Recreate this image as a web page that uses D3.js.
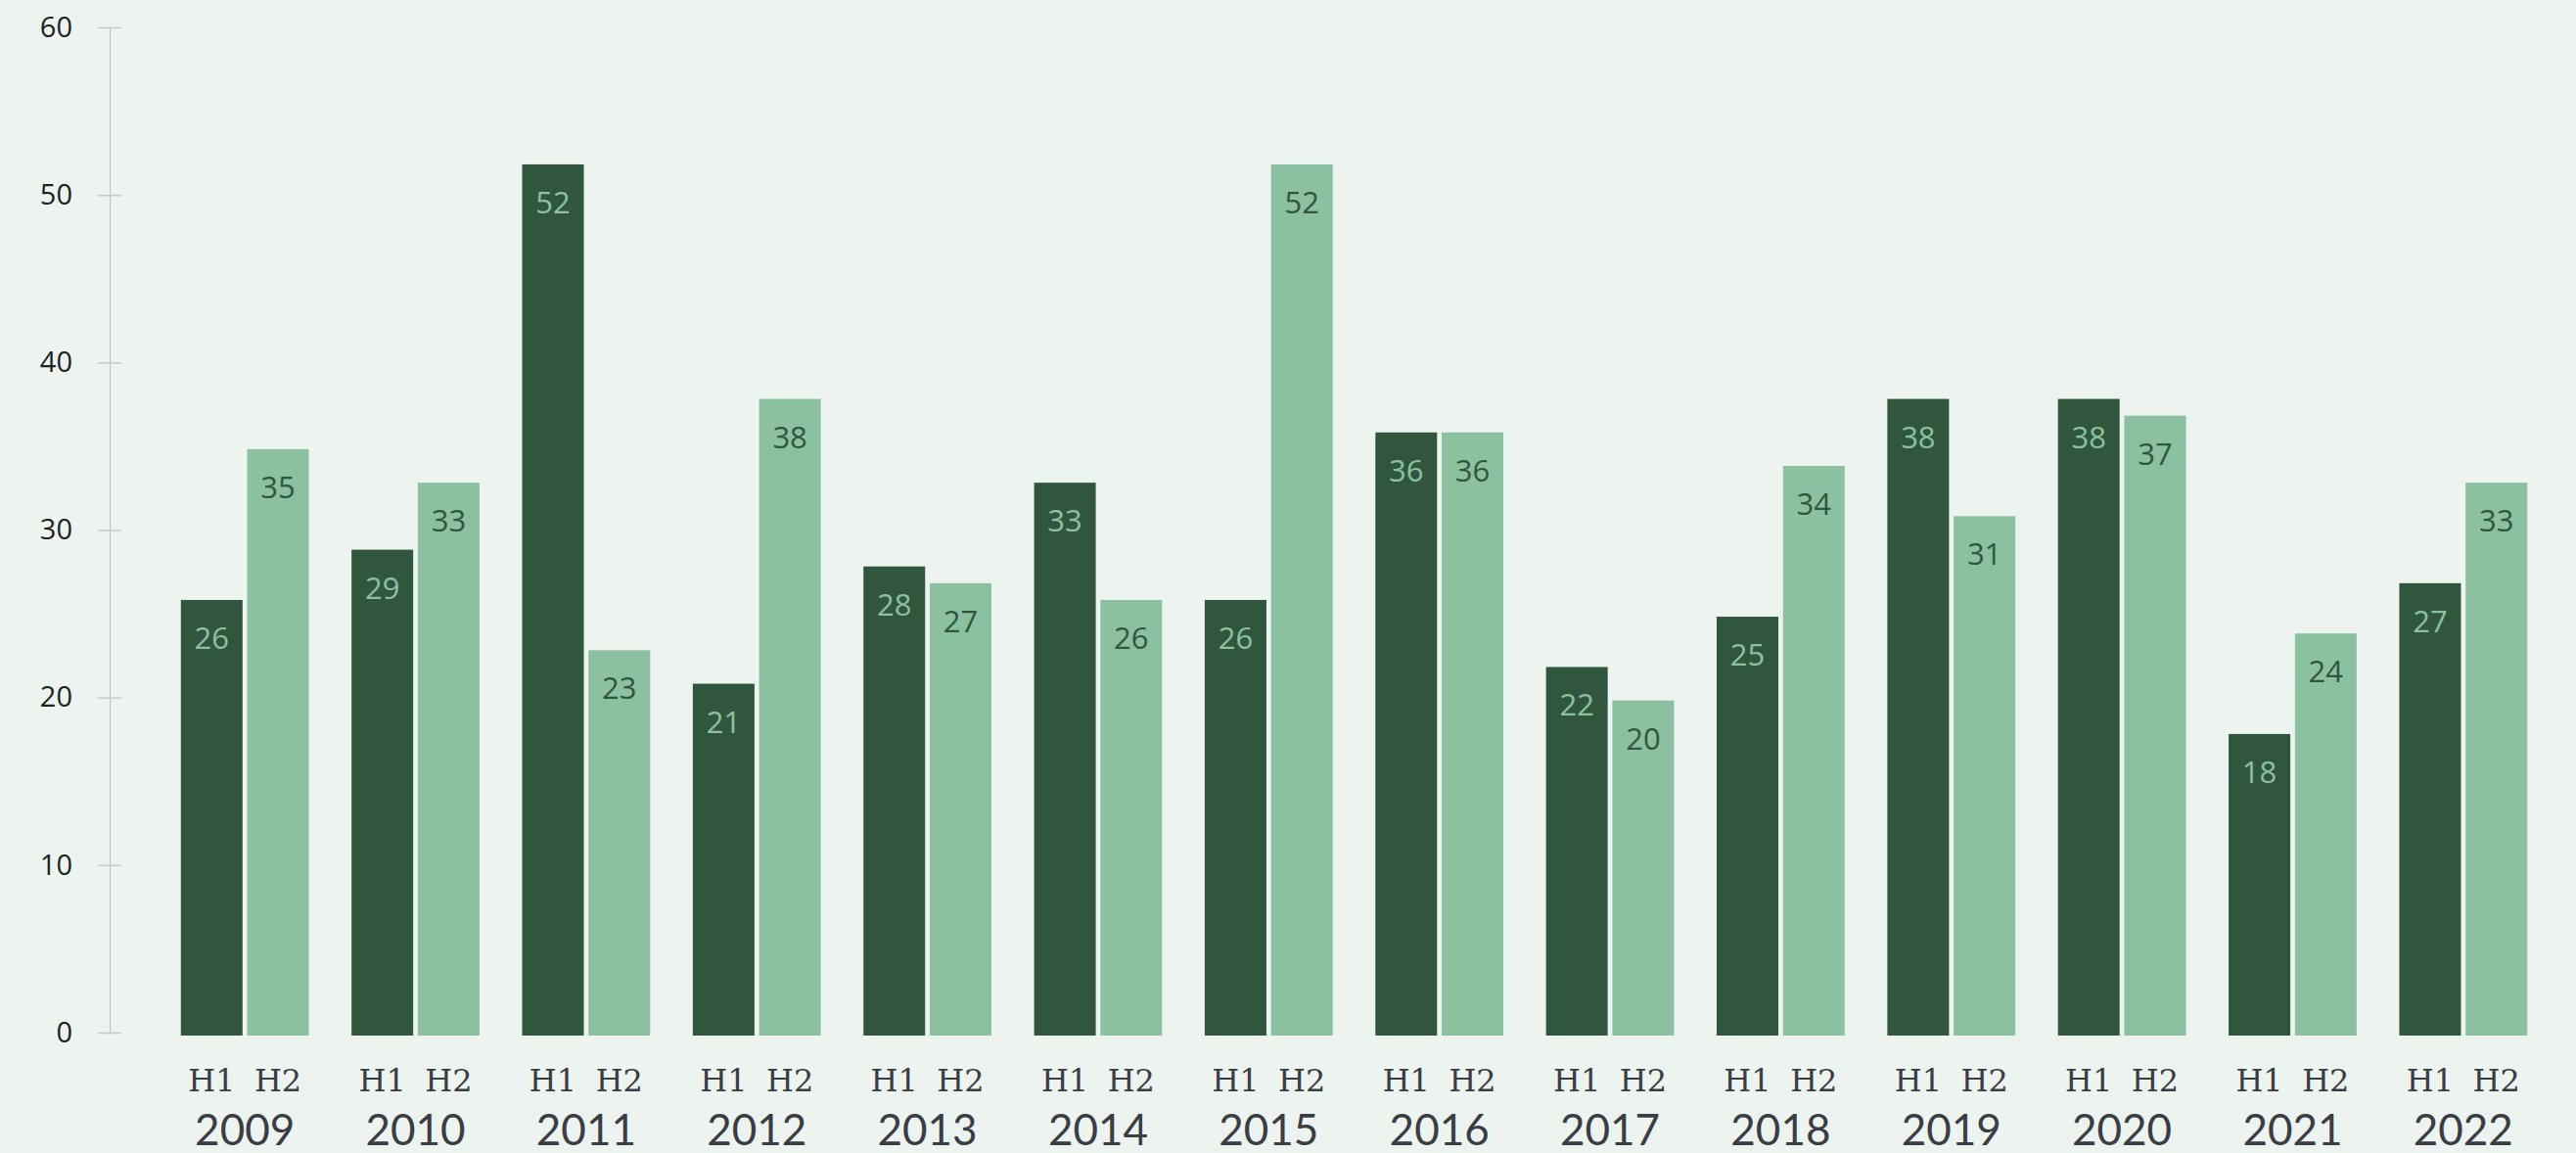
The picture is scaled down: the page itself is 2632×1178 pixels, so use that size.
<!DOCTYPE html>
<html>
<head>
<meta charset="utf-8">
<script src="https://cdn.jsdelivr.net/npm/d3@7"></script>
<style>
  html, body { margin: 0; padding: 0; background: #edf3ef; }
  svg { display: block; }
</style>
</head>
<body>
<div id="chart"></div>
<script>
// Grouped bars: H1 / H2 per year

const WIDTH = 2632;
const HEIGHT = 1178;

const years = ['2009', '2010', '2011', '2012', '2013', '2014', '2015',
	'2016', '2017', '2018', '2019', '2020', '2021', '2022'];
const halves = ['H1', 'H2'];
const h1Values = [26, 29, 52, 21, 28, 33, 26, 36, 22, 25, 38, 38, 18, 27];
const h2Values = [35, 33, 23, 38, 27, 26, 52, 36, 20, 34, 31, 37, 24, 33];
const yTicks = [0, 10, 20, 30, 40, 50, 60];

const DARK = '#30573e';
const LIGHT = '#8bc0a0';
const TEXT = '#3a3d45';

const data = years.map((yr, i) => ({
	year: yr,
	values: [
		{half: 'H1', value: h1Values[i]},
		{half: 'H2', value: h2Values[i]}
	]
}));

const svg = d3.select('#chart')
	.append('svg')
	.attr('width', WIDTH)
	.attr('height', HEIGHT);

const y = d3.scaleLinear()
	.domain([0, 60])
	.range([1055, 28]);

const x0 = d3.scaleBand()
	.domain(years)
	.range([163, 2604])
	.paddingInner(0.25)
	.paddingOuter(0.125);

const x1 = d3.scaleBand()
	.domain(halves)
	.range([0, x0.bandwidth()])
	.paddingInner(0.07);

const color = d3.scaleOrdinal().domain(halves).range([DARK, LIGHT]);
const labelColor = d3.scaleOrdinal().domain(halves).range([LIGHT, DARK]);

// y axis
const yAxis = svg.append('g')
	.attr('transform', 'translate(112,0)')
	.call(d3.axisLeft(y).tickValues(yTicks).tickSize(0).tickSizeOuter(0).tickPadding(38));

yAxis.select('.domain').attr('stroke', '#c3c3c3').attr('stroke-width', 1.2);
yAxis.selectAll('.tick line').remove();
yAxis.selectAll('.tick').append('line')
	.attr('x1', -12)
	.attr('x2', 12)
	.attr('stroke', '#c8c8c8')
	.attr('stroke-width', 1.5);
yAxis.selectAll('.tick text')
	.attr('fill', '#222')
	.style('font-family', '"Open Sans", sans-serif')
	.style('font-size', '29px');

// bars (sit a few px lower than the axis, as in the original)
const group = svg.selectAll('g.year')
	.data(data)
	.join('g')
	.attr('class', 'year')
	.attr('transform', d => `translate(${x0(d.year)},0)`);

const bars = group.append('g').attr('transform', 'translate(0,3)');

bars.selectAll('rect')
	.data(d => d.values)
	.join('rect')
	.attr('x', d => x1(d.half))
	.attr('y', d => y(d.value))
	.attr('width', x1.bandwidth())
	.attr('height', d => y(0) - y(d.value))
	.attr('fill', d => color(d.half));

// value labels inside bars
bars.selectAll('text.val')
	.data(d => d.values)
	.join('text')
	.attr('class', 'val')
	.attr('x', d => x1(d.half) + x1.bandwidth() / 2)
	.attr('y', d => y(d.value) + 50)
	.attr('text-anchor', 'middle')
	.attr('fill', d => labelColor(d.half))
	.style('font-family', '"Open Sans", sans-serif')
	.style('font-size', '31px')
	.text(d => d.value);

// half labels
group.selectAll('text.half')
	.data(d => d.values)
	.join('text')
	.attr('class', 'half')
	.attr('x', d => x1(d.half) + x1.bandwidth() / 2)
	.attr('y', 1115)
	.attr('text-anchor', 'middle')
	.attr('fill', TEXT)
	.style('font-family', '"DejaVu Serif", serif')
	.style('font-size', '32px')
	.text(d => d.half);

// year labels
group.append('text')
	.attr('x', x0.bandwidth() / 2)
	.attr('y', 1170)
	.attr('text-anchor', 'middle')
	.attr('fill', TEXT)
	.style('font-family', 'Lato, sans-serif')
	.style('font-size', '44px')
	.text(d => d.year);
</script>
</body>
</html>
